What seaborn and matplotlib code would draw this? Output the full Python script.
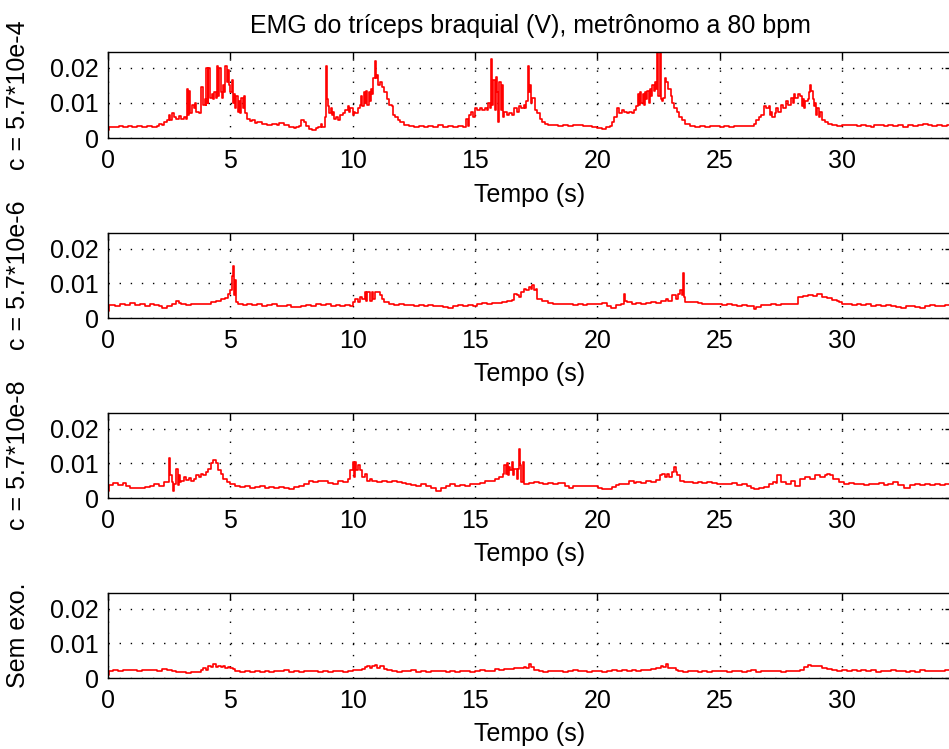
import numpy as np
import matplotlib
matplotlib.use("Agg")
import matplotlib.pyplot as plt
import seaborn as sns

# ---------------- data (values in units of 1e-3 V) ----------------
title = "EMG do tríceps braquial (V), metrônomo a 80 bpm"
ylabels = ["c = 5.7*10e-4", "c = 5.7*10e-6", "c = 5.7*10e-8", "Sem exo."]
xlabel = "Tempo (s)"
xticks = [0, 5, 10, 15, 20, 25, 30]
xticklabels = ["0", "5", "10", "15", "20", "25", "30"]
yticks = [0, 0.01, 0.02]
yticklabels = ["0", "0.01", "0.02"]

t1 = [0.00, 0.05, 0.30, 0.45, 0.60, 0.80, 1.00, 1.20, 1.40, 1.60,
      1.80, 2.00, 2.10, 2.20, 2.30, 2.40, 2.50, 2.55, 2.60, 2.70,
      2.80, 2.90, 3.00, 3.10, 3.20, 3.22, 3.27, 3.32, 3.37, 3.45,
      3.50, 3.55, 3.60, 3.70, 3.80, 3.82, 3.88, 3.95, 4.00, 4.02,
      4.07, 4.10, 4.15, 4.25, 4.30, 4.35, 4.40, 4.45, 4.50, 4.55,
      4.60, 4.65, 4.70, 4.75, 4.80, 4.85, 4.90, 4.95, 5.00, 5.05,
      5.10, 5.15, 5.20, 5.25, 5.30, 5.35, 5.40, 5.45, 5.50, 5.55,
      5.60, 5.70, 5.80, 5.90, 6.00, 6.10, 6.30, 6.50, 6.70, 6.90,
      7.00, 7.20, 7.40, 7.60, 7.70, 7.80, 7.90, 8.00, 8.10, 8.20,
      8.35, 8.50, 8.60, 8.70, 8.75, 8.85, 8.90, 8.95, 9.00, 9.05,
      9.10, 9.15, 9.20, 9.25, 9.30, 9.40, 9.50, 9.60, 9.70, 9.80,
      9.85, 9.90, 10.00, 10.05, 10.10, 10.20, 10.30, 10.35, 10.40, 10.45,
      10.50, 10.55, 10.60, 10.65, 10.70, 10.75, 10.80, 10.85, 10.90, 10.95,
      11.00, 11.05, 11.10, 11.20, 11.30, 11.40, 11.50, 11.60, 11.65, 11.75,
      11.85, 11.95, 12.10, 12.30, 12.50, 12.70, 12.90, 13.10, 13.30, 13.50,
      13.70, 13.90, 14.10, 14.30, 14.50, 14.60, 14.65, 14.70, 14.75, 14.85,
      14.90, 15.00, 15.10, 15.20, 15.30, 15.40, 15.50, 15.55, 15.60, 15.65,
      15.70, 15.75, 15.80, 15.85, 15.90, 15.95, 16.00, 16.05, 16.10, 16.15,
      16.20, 16.30, 16.40, 16.50, 16.60, 16.70, 16.80, 16.90, 17.00, 17.05,
      17.10, 17.15, 17.20, 17.25, 17.30, 17.35, 17.45, 17.55, 17.65, 17.75,
      17.85, 18.00, 18.20, 18.40, 18.60, 18.80, 19.00, 19.20, 19.40, 19.60,
      19.80, 20.00, 20.20, 20.35, 20.50, 20.60, 20.70, 20.80, 20.90, 21.00,
      21.10, 21.20, 21.30, 21.40, 21.50, 21.60, 21.65, 21.70, 21.75, 21.80,
      21.85, 21.90, 21.95, 22.00, 22.05, 22.10, 22.15, 22.20, 22.25, 22.30,
      22.35, 22.40, 22.45, 22.50, 22.55, 22.60, 22.65, 22.70, 22.75, 22.80,
      22.90, 23.00, 23.05, 23.15, 23.25, 23.35, 23.45, 23.60, 23.80, 24.00,
      24.20, 24.40, 24.60, 24.80, 25.00, 25.20, 25.40, 25.60, 25.80, 26.00,
      26.20, 26.40, 26.50, 26.60, 26.70, 26.80, 26.90, 27.00, 27.05, 27.10,
      27.15, 27.25, 27.30, 27.40, 27.50, 27.60, 27.70, 27.80, 27.90, 28.00,
      28.05, 28.10, 28.20, 28.30, 28.35, 28.40, 28.45, 28.50, 28.60, 28.65,
      28.70, 28.75, 28.80, 28.85, 28.90, 28.95, 29.00, 29.05, 29.10, 29.20,
      29.30, 29.45, 29.60, 29.80, 30.00, 30.20, 30.40, 30.60, 30.80, 31.00,
      31.20, 31.30, 31.50, 31.70, 31.90, 32.10, 32.30, 32.50, 32.70, 32.90,
      33.10, 33.30, 33.50, 33.70, 33.90, 34.10, 34.30, 34.50]
v1 = [2.2, 3.0, 3.2, 3.5, 3.1, 3.3, 3.0, 3.4, 3.1, 3.3,
      3.2, 3.3, 4.0, 3.6, 4.5, 5.0, 6.5, 5.2, 7.0, 6.0,
      5.5, 6.2, 5.3, 6.0, 5.5, 14.0, 6.5, 13.5, 7.0, 9.5,
      8.5, 10.0, 7.5, 7.0, 8.0, 14.5, 9.5, 11.0, 9.5, 20.0,
      10.0, 20.0, 11.5, 12.5, 11.0, 13.0, 11.5, 20.5, 12.0, 20.0,
      13.0, 11.5, 15.0, 13.0, 20.5, 16.0, 19.5, 15.0, 13.0, 16.5,
      10.0, 12.5, 8.5, 12.0, 7.5, 10.5, 7.0, 11.5, 8.5, 12.0,
      7.0, 5.5, 4.8, 5.0, 4.2, 4.5, 4.0, 3.8, 4.0, 3.8,
      4.2, 3.6, 3.2, 2.8, 3.2, 3.5, 5.0, 4.5, 3.3, 2.5,
      2.2, 2.8, 3.2, 4.0, 3.0, 6.0, 20.5, 11.0, 9.0, 7.0,
      8.5, 6.5, 7.5, 5.5, 6.0, 5.0, 6.5, 7.0, 8.0, 9.0,
      7.5, 8.5, 6.5, 7.5, 7.0, 8.5, 9.5, 12.0, 9.0, 13.0,
      10.0, 13.5, 9.5, 13.0, 10.5, 14.0, 12.5, 17.0, 22.0, 17.0,
      18.0, 15.0, 16.0, 14.5, 13.0, 11.0, 9.5, 9.0, 6.5, 6.0,
      5.0, 4.5, 3.8, 3.5, 3.2, 3.4, 3.2, 3.5, 3.2, 3.6,
      3.2, 3.4, 3.1, 3.3, 3.0, 3.1, 5.5, 3.5, 6.5, 7.5,
      6.0, 8.5, 8.0, 8.5, 8.0, 8.5, 8.0, 10.0, 8.5, 22.5,
      9.5, 16.5, 8.0, 17.5, 13.0, 4.5, 16.0, 8.0, 15.0, 6.0,
      7.5, 6.5, 7.0, 6.5, 8.5, 7.5, 9.0, 8.5, 9.5, 8.5,
      10.5, 20.5, 13.0, 15.0, 10.0, 11.5, 8.0, 7.0, 5.5, 4.5,
      4.0, 3.6, 3.8, 3.5, 3.7, 3.4, 3.6, 3.8, 3.5, 3.3,
      3.0, 2.8, 2.6, 3.0, 3.5, 4.5, 6.0, 8.5, 7.0, 8.0,
      7.5, 7.0, 7.5, 7.0, 8.0, 9.0, 12.5, 9.5, 13.0, 10.0,
      12.5, 9.5, 13.0, 11.0, 13.5, 10.0, 14.0, 12.0, 15.0, 13.5,
      16.0, 14.0, 25.0, 12.0, 25.0, 11.0, 10.5, 11.5, 17.0, 16.0,
      14.0, 12.0, 10.0, 8.5, 7.5, 6.0, 5.0, 4.0, 3.5, 3.2,
      3.4, 3.2, 3.5, 3.3, 3.1, 3.4, 3.2, 3.5, 3.3, 3.5,
      3.4, 4.0, 5.0, 6.0, 6.5, 9.0, 8.5, 9.0, 6.5, 7.5,
      6.0, 7.0, 8.5, 7.5, 9.5, 8.5, 10.5, 9.5, 11.5, 10.0,
      12.5, 11.5, 12.5, 12.0, 9.0, 11.0, 8.5, 10.5, 11.0, 13.0,
      15.0, 13.5, 11.0, 9.0, 10.0, 6.5, 8.5, 6.0, 7.5, 5.0,
      4.5, 4.0, 3.7, 3.5, 3.8, 3.6, 3.8, 3.5, 3.7, 3.5,
      3.0, 3.6, 3.8, 3.5, 3.8, 3.4, 3.7, 3.2, 3.6, 3.4,
      3.6, 3.9, 3.6, 3.4, 3.7, 3.5, 3.6, 3.5]

t2 = [0.00, 0.05, 0.30, 0.50, 0.70, 0.90, 1.10, 1.30, 1.50, 1.70,
      1.90, 2.10, 2.20, 2.40, 2.60, 2.80, 2.90, 3.00, 3.20, 3.40,
      3.60, 3.80, 4.00, 4.20, 4.40, 4.60, 4.80, 4.90, 5.00, 5.05,
      5.10, 5.15, 5.20, 5.25, 5.30, 5.50, 5.70, 5.90, 6.10, 6.30,
      6.50, 6.70, 6.90, 7.10, 7.30, 7.50, 7.70, 7.90, 8.10, 8.30,
      8.50, 8.70, 8.90, 9.10, 9.30, 9.50, 9.70, 9.90, 10.00, 10.10,
      10.20, 10.30, 10.40, 10.50, 10.55, 10.60, 10.70, 10.80, 10.85, 10.90,
      11.00, 11.10, 11.20, 11.30, 11.50, 11.70, 11.90, 12.10, 12.30, 12.50,
      12.70, 12.90, 13.10, 13.30, 13.50, 13.70, 13.90, 14.10, 14.30, 14.50,
      14.70, 14.90, 15.10, 15.30, 15.50, 15.70, 15.90, 16.10, 16.30, 16.50,
      16.60, 16.70, 16.80, 16.90, 17.00, 17.10, 17.20, 17.30, 17.35, 17.40,
      17.50, 17.55, 17.75, 18.00, 18.20, 18.40, 18.60, 18.80, 19.00, 19.20,
      19.40, 19.60, 19.80, 20.00, 20.20, 20.40, 20.55, 20.75, 20.95, 21.05,
      21.10, 21.15, 21.20, 21.40, 21.60, 21.80, 22.00, 22.20, 22.40, 22.60,
      22.80, 22.90, 23.05, 23.20, 23.30, 23.40, 23.45, 23.50, 23.55, 23.60,
      23.80, 24.00, 24.10, 24.30, 24.50, 24.70, 24.90, 25.10, 25.30, 25.50,
      25.70, 25.90, 26.10, 26.30, 26.40, 26.50, 26.70, 26.90, 27.10, 27.30,
      27.50, 27.70, 27.90, 28.10, 28.20, 28.40, 28.60, 28.80, 29.00, 29.05,
      29.20, 29.40, 29.60, 29.80, 29.90, 30.00, 30.20, 30.40, 30.60, 30.80,
      31.00, 31.20, 31.40, 31.60, 31.80, 32.00, 32.20, 32.40, 32.60, 32.80,
      33.00, 33.20, 33.40, 33.60, 33.80, 34.00, 34.20, 34.50]
v2 = [2.0, 3.8, 3.6, 4.0, 3.7, 4.2, 3.8, 4.0, 3.6, 4.1,
      3.8, 3.4, 2.9, 3.5, 3.9, 4.8, 4.2, 4.0, 3.8, 4.1,
      3.9, 4.0, 4.1, 4.5, 5.0, 5.5, 5.8, 7.0, 8.0, 12.0,
      15.0, 6.5, 11.0, 4.5, 4.0, 3.8, 4.0, 3.7, 3.9, 3.6,
      3.8, 4.0, 3.6, 3.4, 3.7, 3.3, 3.1, 3.6, 3.8, 3.5,
      3.9, 3.7, 4.0, 3.6, 3.8, 3.5, 3.7, 3.6, 4.5, 5.5,
      4.5, 6.0, 5.5, 7.5, 4.8, 7.5, 5.0, 7.5, 5.5, 7.5,
      7.5, 6.5, 5.5, 4.5, 4.0, 3.8, 3.9, 3.7, 3.8, 3.6,
      3.8, 3.5, 3.7, 3.4, 3.5, 3.3, 3.0, 3.4, 3.7, 3.5,
      3.8, 3.6, 3.9, 4.2, 4.0, 4.4, 4.3, 4.6, 5.0, 5.2,
      6.8, 6.5, 6.0, 7.5, 8.5, 8.0, 9.0, 8.5, 9.5, 8.0,
      8.5, 5.5, 4.8, 4.2, 4.0, 4.1, 3.9, 4.0, 3.8, 4.0,
      3.8, 4.0, 3.9, 4.0, 4.2, 3.6, 2.9, 3.8, 4.0, 4.0,
      7.0, 5.0, 4.5, 4.0, 4.3, 3.9, 4.2, 4.5, 4.3, 5.0,
      5.5, 5.0, 6.5, 5.5, 7.0, 8.0, 6.5, 13.0, 6.0, 4.5,
      4.5, 4.5, 4.2, 4.0, 4.1, 3.9, 4.0, 3.8, 4.0, 3.7,
      3.6, 3.8, 3.5, 3.4, 2.5, 3.2, 3.7, 3.8, 3.9, 3.8,
      3.9, 4.0, 3.9, 4.0, 6.0, 6.2, 6.5, 6.3, 6.8, 7.0,
      6.0, 5.8, 5.2, 5.0, 4.5, 3.9, 4.0, 3.8, 4.0, 3.7,
      3.9, 3.6, 3.8, 3.5, 3.8, 3.6, 3.3, 3.0, 3.6, 3.4,
      3.1, 3.0, 3.5, 3.8, 3.6, 3.4, 3.7, 3.5]

t3 = [0.00, 0.05, 0.20, 0.40, 0.60, 0.75, 0.90, 1.10, 1.30, 1.50,
      1.70, 1.90, 2.10, 2.30, 2.45, 2.50, 2.55, 2.60, 2.65, 2.70,
      2.80, 2.85, 2.90, 2.95, 3.00, 3.10, 3.20, 3.30, 3.40, 3.50,
      3.60, 3.70, 3.80, 3.90, 4.00, 4.10, 4.20, 4.30, 4.40, 4.50,
      4.60, 4.70, 4.85, 5.00, 5.20, 5.40, 5.60, 5.80, 6.00, 6.20,
      6.40, 6.60, 6.80, 7.00, 7.20, 7.40, 7.60, 7.80, 8.00, 8.20,
      8.40, 8.60, 8.80, 9.00, 9.20, 9.40, 9.60, 9.80, 9.90, 10.00,
      10.05, 10.10, 10.15, 10.20, 10.30, 10.40, 10.50, 10.60, 10.70, 10.80,
      11.00, 11.20, 11.40, 11.60, 11.80, 12.00, 12.20, 12.40, 12.60, 12.80,
      13.00, 13.20, 13.40, 13.60, 13.80, 14.00, 14.20, 14.40, 14.60, 14.80,
      15.00, 15.20, 15.40, 15.60, 15.80, 16.00, 16.15, 16.20, 16.25, 16.30,
      16.35, 16.40, 16.45, 16.50, 16.55, 16.60, 16.70, 16.75, 16.80, 16.85,
      16.90, 16.95, 17.00, 17.20, 17.40, 17.60, 17.80, 18.00, 18.20, 18.40,
      18.70, 18.85, 19.00, 19.20, 19.40, 19.60, 19.80, 20.05, 20.20, 20.40,
      20.60, 20.75, 20.90, 21.10, 21.30, 21.50, 21.60, 21.80, 22.00, 22.20,
      22.40, 22.55, 22.65, 22.75, 22.85, 22.95, 23.05, 23.15, 23.20, 23.25,
      23.40, 23.55, 23.70, 23.90, 24.10, 24.30, 24.50, 24.70, 24.90, 25.10,
      25.30, 25.50, 25.70, 25.90, 26.10, 26.30, 26.40, 26.60, 26.80, 27.00,
      27.20, 27.30, 27.35, 27.50, 27.70, 27.90, 28.10, 28.30, 28.50, 28.70,
      28.90, 29.10, 29.30, 29.40, 29.50, 29.65, 29.90, 30.10, 30.30, 30.50,
      30.70, 30.90, 31.10, 31.30, 31.50, 31.70, 31.90, 32.10, 32.30, 32.55,
      32.80, 33.00, 33.20, 33.40, 33.60, 33.80, 34.00, 34.20, 34.50]
v3 = [2.0, 3.8, 4.3, 3.8, 4.2, 3.6, 2.9, 3.0, 2.9, 3.3,
      3.6, 4.0, 3.6, 4.5, 4.5, 11.5, 6.5, 4.5, 2.0, 4.0,
      8.5, 3.8, 6.5, 4.5, 5.0, 6.0, 5.2, 5.8, 5.0, 5.5,
      6.5, 6.0, 6.8, 6.5, 7.5, 8.5, 10.0, 11.0, 10.0, 8.0,
      7.0, 5.5, 4.5, 4.0, 3.5, 3.2, 3.5, 3.0, 3.2, 3.4,
      3.0, 3.3, 2.8, 3.2, 3.0, 2.6, 3.1, 3.4, 4.0, 5.0,
      4.5, 4.8, 5.0, 4.2, 4.0, 4.8, 4.5, 5.5, 8.0, 10.5,
      6.0, 10.5, 8.0, 9.5, 8.0, 6.0, 7.0, 5.0, 5.5, 4.8,
      4.5, 5.0, 4.6, 4.8, 4.5, 4.4, 4.0, 3.8, 3.5, 3.9,
      3.5, 3.0, 2.0, 3.0, 3.5, 4.0, 3.6, 3.8, 3.5, 3.9,
      4.0, 4.3, 4.8, 5.0, 5.5, 6.0, 7.0, 9.5, 7.0, 10.0,
      6.5, 9.0, 8.0, 10.5, 6.5, 8.5, 5.5, 8.5, 14.0, 9.5,
      4.5, 10.5, 4.0, 4.2, 4.5, 4.2, 4.0, 4.3, 4.0, 4.2,
      3.5, 3.0, 3.5, 3.6, 3.4, 3.6, 3.5, 3.0, 2.5, 2.6,
      3.2, 3.8, 4.0, 4.0, 4.8, 4.2, 4.5, 4.3, 5.0, 4.6,
      5.2, 6.5, 7.0, 6.0, 7.0, 6.0, 7.5, 9.0, 7.5, 6.5,
      5.0, 4.5, 4.6, 4.4, 4.6, 4.3, 4.5, 4.2, 4.0, 4.1,
      3.9, 4.2, 3.8, 4.0, 3.6, 3.0, 2.5, 3.0, 3.2, 4.0,
      4.5, 4.2, 6.5, 4.5, 4.0, 5.0, 3.5, 5.5, 6.0, 5.5,
      6.5, 6.0, 6.5, 7.0, 6.5, 5.5, 4.5, 4.0, 4.2, 3.9,
      4.1, 3.8, 4.0, 3.9, 4.2, 3.8, 4.0, 4.5, 3.8, 3.0,
      3.8, 4.0, 3.7, 4.0, 3.8, 4.1, 3.8, 4.0, 3.9]

t4 = [0.00, 0.05, 0.20, 0.40, 0.60, 0.80, 1.00, 1.20, 1.40, 1.60,
      1.80, 2.00, 2.20, 2.40, 2.60, 2.80, 3.00, 3.20, 3.40, 3.60,
      3.80, 3.90, 4.00, 4.10, 4.20, 4.30, 4.40, 4.50, 4.60, 4.70,
      4.80, 4.90, 5.00, 5.10, 5.20, 5.40, 5.60, 5.80, 6.00, 6.20,
      6.40, 6.60, 6.80, 7.00, 7.20, 7.40, 7.60, 7.80, 8.00, 8.20,
      8.40, 8.60, 8.80, 9.00, 9.20, 9.40, 9.60, 9.80, 10.00, 10.20,
      10.40, 10.50, 10.60, 10.70, 10.80, 10.90, 11.00, 11.10, 11.20, 11.30,
      11.40, 11.60, 11.80, 12.00, 12.20, 12.40, 12.60, 12.80, 13.00, 13.20,
      13.40, 13.60, 13.80, 14.00, 14.20, 14.40, 14.60, 14.80, 15.00, 15.20,
      15.40, 15.60, 15.80, 16.00, 16.20, 16.40, 16.60, 16.80, 17.00, 17.10,
      17.20, 17.30, 17.40, 17.60, 17.80, 18.00, 18.20, 18.40, 18.60, 18.80,
      19.00, 19.20, 19.40, 19.60, 19.80, 20.00, 20.20, 20.40, 20.60, 20.80,
      21.00, 21.20, 21.40, 21.60, 21.80, 22.00, 22.20, 22.40, 22.50, 22.60,
      22.70, 22.80, 22.90, 23.05, 23.20, 23.30, 23.50, 23.70, 23.90, 24.10,
      24.30, 24.50, 24.70, 24.90, 25.10, 25.30, 25.50, 25.70, 25.90, 26.10,
      26.30, 26.50, 26.70, 26.90, 27.10, 27.30, 27.50, 27.70, 27.90, 28.10,
      28.30, 28.45, 28.60, 28.75, 28.90, 29.05, 29.20, 29.40, 29.60, 29.80,
      30.00, 30.20, 30.40, 30.60, 30.80, 31.00, 31.20, 31.40, 31.60, 31.80,
      32.00, 32.20, 32.40, 32.60, 32.80, 33.00, 33.20, 33.40, 33.60, 33.80,
      34.00, 34.20, 34.50]
v4 = [1.0, 2.0, 2.3, 2.1, 2.4, 2.2, 2.3, 2.0, 2.4, 2.2,
      2.3, 2.1, 2.5, 2.2, 2.0, 1.6, 1.7, 1.5, 1.8, 1.6,
      2.2, 3.0, 2.2, 3.5, 3.2, 4.0, 3.3, 3.5, 3.2, 3.6,
      3.0, 3.3, 3.0, 2.5, 2.0, 1.8, 2.0, 1.7, 2.1, 1.8,
      2.0, 1.7, 2.1, 1.9, 2.2, 1.8, 2.0, 1.7, 2.1, 1.9,
      2.0, 1.7, 2.1, 1.8, 2.0, 1.9, 1.7, 2.0, 2.2, 2.4,
      2.6, 3.2, 3.5, 2.8, 3.6, 3.8, 3.0, 3.4, 3.6, 2.6,
      2.2, 2.0, 1.8, 2.1, 1.9, 2.2, 1.8, 2.0, 1.7, 2.1,
      1.9, 2.0, 1.8, 2.1, 1.7, 2.0, 1.9, 1.8, 2.0, 2.2,
      1.9, 2.1, 2.5, 2.4, 2.7, 2.6, 3.0, 2.8, 3.3, 3.0,
      4.0, 3.2, 2.2, 2.0, 1.8, 2.1, 1.9, 2.0, 1.7, 2.0,
      2.2, 1.9, 2.1, 1.8, 2.0, 2.0, 1.8, 2.1, 2.3, 1.9,
      2.2, 2.0, 2.3, 2.1, 2.4, 2.2, 2.5, 3.0, 2.8, 3.5,
      3.2, 4.0, 3.0, 2.8, 2.3, 2.0, 1.8, 2.0, 2.1, 1.8,
      2.0, 1.7, 2.0, 1.9, 2.1, 1.8, 2.0, 1.9, 1.7, 2.0,
      2.2, 1.8, 2.0, 2.1, 1.9, 2.0, 1.8, 2.1, 2.0, 1.9,
      2.2, 3.2, 3.8, 3.5, 3.6, 3.4, 3.0, 2.5, 2.2, 2.0,
      2.3, 2.0, 2.2, 1.9, 2.4, 2.1, 2.2, 1.8, 2.1, 2.0,
      2.3, 1.9, 2.0, 1.7, 2.1, 1.8, 2.2, 2.0, 1.9, 2.1,
      2.0, 2.2, 2.0]

series = [(t1, v1), (t2, v2), (t3, v3), (t4, v4)]

# ---------------- style ----------------
sns.set_theme(style="white")
plt.rcParams["font.family"] = ["Liberation Sans", "DejaVu Sans"]
plt.rcParams["font.size"] = 18
for key in ["text.color", "axes.labelcolor", "xtick.color", "ytick.color",
            "axes.edgecolor"]:
    plt.rcParams[key] = "black"

FS = 18
W, H = 949, 749
fig = plt.figure(figsize=(W / 100, H / 100), dpi=100)
fig.patch.set_facecolor("white")

# axes boxes in pixels: left, top, right, bottom
boxes = [(108, 52, 952, 138), (108, 233, 952, 318),
         (108, 413, 952, 498), (108, 593, 952, 678)]

for i, ((t, v), (l, tp, r, b)) in enumerate(zip(series, boxes)):
    ax = fig.add_axes([l / W, 1 - b / H, (r - l) / W, (b - tp) / H])
    ax.set_facecolor("white")
    sns.lineplot(x=np.array(t), y=np.array(v) * 1e-3, ax=ax, color="#ff0000",
                 linewidth=1.2, drawstyle="steps-post", estimator=None,
                 sort=False, errorbar=None)
    ax.set_xlim(0, 34.5)
    ax.set_ylim(0, 0.0245)
    ax.set_xticks(xticks)
    ax.set_xticklabels(xticklabels)
    ax.set_yticks(yticks)
    ax.set_yticklabels(yticklabels)
    ax.grid(True, color="black", linestyle=(0, (1, 7)), linewidth=1.0)
    for s in ax.spines.values():
        s.set_color("black")
        s.set_linewidth(1.0)
    ax.tick_params(direction="in", length=5, width=1.0, top=True, right=True,
                   colors="black", labelsize=FS, pad=6.5)
    ax.tick_params(axis="x", pad=8)
    ax.set_xlabel(xlabel, fontsize=FS, color="black")
    ax.xaxis.set_label_coords(0.5, -0.52)
    ax.set_ylabel(ylabels[i], fontsize=FS, color="black")
    ax.yaxis.set_label_coords(-0.093, 0.5)
    if i == 0:
        ax.set_title(title, fontsize=FS, pad=14, color="black")

fig.savefig("out.png", dpi=100, facecolor="white")
